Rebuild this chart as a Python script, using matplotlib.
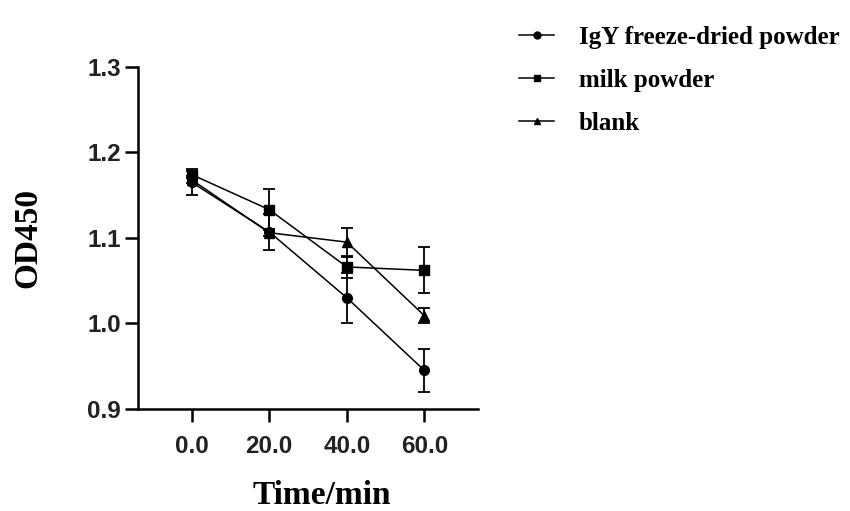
import matplotlib
matplotlib.use('Agg')
import matplotlib.pyplot as plt
from matplotlib.lines import Line2D
from matplotlib.ticker import FormatStrFormatter

# time points (min)
times = [0, 20, 40, 60]

# mean OD450 and error per group
igy_mean = [1.165, 1.107, 1.030, 0.945]
igy_err = [0.015, 0.021, 0.029, 0.025]

milk_mean = [1.174, 1.133, 1.066, 1.062]
milk_err = [0.004, 0.024, 0.013, 0.027]

blank_mean = [1.168, 1.106, 1.095, 1.009]
blank_err = [0.004, 0.004, 0.017, 0.009]

labels = ['IgY freeze-dried powder', 'milk powder', 'blank']
x_ticks = [0, 20, 40, 60]
y_ticks = [0.9, 1.0, 1.1, 1.2, 1.3]

fig = plt.figure(figsize=(8.5, 5.11), dpi=100)
ax = fig.add_axes([138 / 850, 1 - 409 / 511, 340 / 850, 342.3 / 511])

series = [(igy_mean, igy_err, 'o'), (milk_mean, milk_err, 's'), (blank_mean, blank_err, '^')]
handles = []
for (m, e, mk), lab in zip(series, labels):
    ax.errorbar(times, m, yerr=e, color='black', marker=mk, markersize=7,
                linewidth=1.1, elinewidth=1.3, capsize=4, capthick=1.3)
    # legend entry without the error bars
    handles.append(Line2D([], [], color='black', marker=mk, markersize=5, linewidth=1.1))

ax.set_xlim(-13.8, 73.8)
ax.set_ylim(0.9, 1.3)
ax.set_xticks(x_ticks)
ax.set_yticks(y_ticks)
ax.xaxis.set_major_formatter(FormatStrFormatter('%.1f'))
ax.yaxis.set_major_formatter(FormatStrFormatter('%.1f'))

for side in ['top', 'right']:
    ax.spines[side].set_visible(False)
for side in ['left', 'bottom']:
    ax.spines[side].set_linewidth(1.8)
ax.tick_params(width=1.8, length=9.5, direction='out')
ax.tick_params(axis='x', pad=9)
ax.tick_params(axis='y', pad=3)
for lbl in ax.get_xticklabels() + ax.get_yticklabels():
    lbl.set_fontfamily('Liberation Sans')
    lbl.set_fontweight('bold')
    lbl.set_fontsize(17.5)
    lbl.set_color('#222222')

fig.text(322 / 850, 1 - 496 / 511, 'Time/min', ha='center', va='center',
         fontfamily='Liberation Serif', fontweight='bold', fontsize=24)
fig.text(28 / 850, 1 - 238 / 511, 'OD450', ha='center', va='center', rotation=90,
         fontfamily='Liberation Serif', fontweight='bold', fontsize=24)

fig.legend(handles=handles, labels=labels, loc='upper left',
           bbox_to_anchor=(509 / 850, 1 - 16 / 511), frameon=False,
           prop={'family': 'Liberation Serif', 'weight': 'bold', 'size': 18},
           handlelength=1.4, handletextpad=1.0, labelspacing=0.8,
           borderaxespad=0)

fig.savefig('out.png', dpi=100)
